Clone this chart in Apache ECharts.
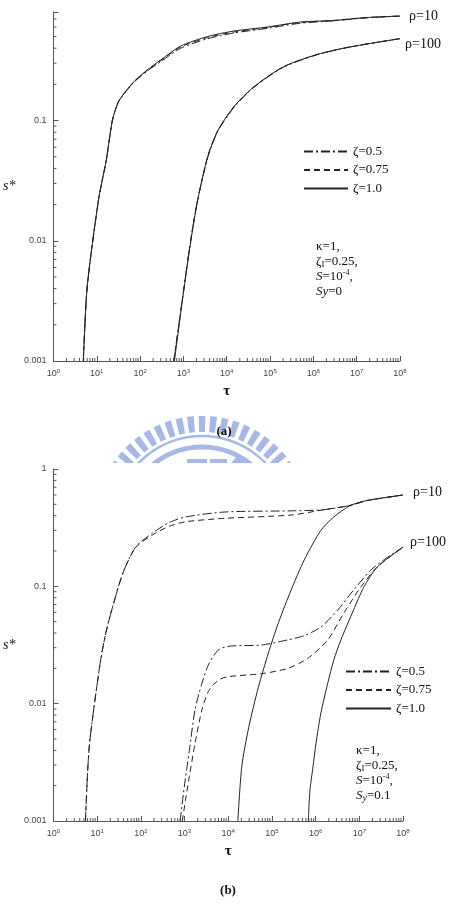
<!DOCTYPE html>
<html>
<head>
<meta charset="utf-8">
<script src="https://cdn.jsdelivr.net/npm/echarts@6/dist/echarts.min.js"></script>
<style>
  html, body { margin: 0; padding: 0; background: #fff; }
  #chart { width: 455px; height: 912px; }
</style>
</head>
<body>
<div id="chart"></div>
<script>
// legend entries, one per zeta
const zetaNames = ['ζ=0.5', 'ζ=0.75', 'ζ=1.0'];

// (a) Sy = 0, rho = 10   [tau, s*]
const aRho10Z05 = [[4.9, 0.001], [6.0, 0.0041], [11, 0.022], [16.6, 0.047], [22.9, 0.10], [30.9, 0.14], [43.6, 0.168], [74, 0.21], [151, 0.26], [302, 0.31], [870, 0.40], [3630, 0.48], [14500, 0.535], [87000, 0.585], [5.0e5, 0.645], [2.9e6, 0.675], [1.74e7, 0.715], [1e8, 0.74]];
const aRho10Z075 = [[4.9, 0.001], [6.0, 0.0041], [11, 0.022], [16.6, 0.047], [22.9, 0.10], [30.9, 0.141], [43.6, 0.17], [74, 0.212], [151, 0.264], [302, 0.316], [870, 0.41], [3630, 0.49], [14500, 0.545], [87000, 0.595], [5.0e5, 0.655], [2.9e6, 0.68], [1.74e7, 0.72], [1e8, 0.74]];
const aRho10Z1 = [[4.9, 0.001], [6.0, 0.0041], [11, 0.022], [16.6, 0.047], [22.9, 0.10], [30.9, 0.141], [43.6, 0.17], [74, 0.213], [151, 0.266], [302, 0.32], [870, 0.417], [3630, 0.50], [14500, 0.555], [87000, 0.60], [5.0e5, 0.66], [2.9e6, 0.68], [1.74e7, 0.72], [1e8, 0.74]];
// (a) Sy = 0, rho = 100
const aRho100Z05 = [[600, 0.001], [950, 0.0033], [1480, 0.0102], [2140, 0.022], [3630, 0.049], [6170, 0.081], [14500, 0.128], [41700, 0.188], [2.04e5, 0.278], [1.23e6, 0.353], [7.1e6, 0.41], [1e8, 0.48]];
const aRho100Z075 = [[600, 0.001], [950, 0.0033], [1480, 0.0102], [2140, 0.022], [3630, 0.05], [6170, 0.082], [14500, 0.13], [41700, 0.19], [2.04e5, 0.28], [1.23e6, 0.355], [7.1e6, 0.41], [1e8, 0.48]];
const aRho100Z1 = [[620, 0.001], [960, 0.0033], [1500, 0.0102], [2150, 0.022], [3630, 0.05], [6170, 0.082], [14500, 0.13], [41700, 0.19], [2.04e5, 0.28], [1.23e6, 0.355], [7.1e6, 0.41], [1e8, 0.48]];

// (b) Sy = 0.1, rho = 10
const bRho10Z05 = [[5.4, 0.001], [6.6, 0.0043], [11.7, 0.022], [15.8, 0.040], [22.9, 0.068], [38.9, 0.13], [75.9, 0.216], [186, 0.285], [447, 0.35], [1050, 0.39], [8300, 0.43], [2.75e5, 0.44], [1.55e6, 0.45], [6.3e6, 0.49], [1.55e7, 0.54], [1e8, 0.60]];
const bRho10Z075 = [[5.4, 0.001], [6.6, 0.0043], [11.7, 0.022], [15.8, 0.040], [22.9, 0.068], [38.9, 0.13], [75.9, 0.214], [186, 0.275], [447, 0.325], [1050, 0.355], [8300, 0.38], [2.75e5, 0.405], [1.55e6, 0.45], [6.3e6, 0.49], [1.55e7, 0.54], [1e8, 0.60]];
const bRho10Z1 = [[16600, 0.001], [20400, 0.0029], [29500, 0.0063], [49000, 0.0138], [83000, 0.027], [1.41e5, 0.049], [2.75e5, 0.093], [5.5e5, 0.168], [1.32e6, 0.30], [2.6e6, 0.39], [6.3e6, 0.49], [1.55e7, 0.54], [1e8, 0.60]];
// (b) Sy = 0.1, rho = 100
const bRho100Z05 = [[794, 0.001], [977, 0.0019], [1290, 0.0040], [1740, 0.0089], [2510, 0.015], [3630, 0.022], [6170, 0.029], [12000, 0.031], [57500, 0.0316], [2.34e5, 0.035], [5.5e5, 0.038], [1.32e6, 0.045], [3.24e6, 0.063], [7.4e6, 0.093], [1.82e7, 0.137], [3.55e7, 0.167], [1e8, 0.216]];
const bRho100Z075 = [[890, 0.001], [1050, 0.0015], [1290, 0.0024], [1740, 0.0046], [2510, 0.0089], [3630, 0.013], [6170, 0.016], [10200, 0.017], [57500, 0.018], [2.34e5, 0.020], [6.8e5, 0.0245], [1.9e6, 0.035], [4.4e6, 0.059], [1.07e7, 0.098], [2.57e7, 0.146], [1e8, 0.216]];
const bRho100Z1 = [[6.8e5, 0.001], [7.4e5, 0.0018], [8.7e5, 0.0029], [1.02e6, 0.0046], [1.32e6, 0.0083], [1.9e6, 0.015], [2.6e6, 0.0235], [3.8e6, 0.035], [7.4e6, 0.063], [1.26e7, 0.098], [2.57e7, 0.146], [1e8, 0.216]];

// axis ranges and minor tick multipliers
const tauRange = [1, 1e8];
const sRangeA = [0.001, 0.8];
const sRangeB = [0.001, 1];
const tauDecades = [1, 10, 100, 1e3, 1e4, 1e5, 1e6, 1e7];
const sDecades = [0.001, 0.01, 0.1];
const minorSteps = [2, 3, 4, 5, 6, 7, 8, 9];

const LINE = '#222';
const AXIS = '#555';
const SERIF = '"Liberation Serif", "DejaVu Serif", serif';
const SANS = '"Liberation Sans", Arial, sans-serif';

function isPow10(v) {
  const e = Math.log10(v);
  return Math.abs(e - Math.round(e)) < 1e-6;
}

function minorTicks(sMax) {
  const out = [];
  tauDecades.forEach(d => minorSteps.forEach(m => out.push([d * m, sRangeA[0], 0])));
  sDecades.forEach(d => minorSteps.forEach(m => {
    if (d * m < sMax) out.push([tauRange[0], d * m, 1]);
  }));
  return out;
}

function renderTick(params, api) {
  const p = api.coord([api.value(0), api.value(1)]);
  const onX = api.value(2) === 0;
  return {
    type: 'line',
    shape: onX
      ? { x1: p[0], y1: p[1], x2: p[0], y2: p[1] - 3 }
      : { x1: p[0], y1: p[1], x2: p[0] + 3, y2: p[1] },
    style: { stroke: AXIS, lineWidth: 1 }
  };
}

function xAxisOpt(gridIndex) {
  return {
    type: 'log', logBase: 10, gridIndex,
    min: tauRange[0], max: tauRange[1], splitNumber: 8,
    name: 'τ', nameLocation: 'middle', nameGap: 23,
    nameTextStyle: { fontFamily: SERIF, fontSize: 15, fontWeight: 'bold', color: '#111' },
    axisLine: { lineStyle: { color: AXIS, width: 1 } },
    axisTick: { inside: true, length: 5, lineStyle: { color: AXIS } },
    splitLine: { show: false },
    axisLabel: {
      margin: 7, color: '#444', fontFamily: SANS, fontSize: 9,
      formatter: v => '10{s|' + Math.round(Math.log10(v)) + '}',
      rich: { s: { fontSize: 6, fontFamily: SANS, color: '#444', verticalAlign: 'top', padding: [0, 0, 5, 0] } }
    }
  };
}

function yAxisOpt(gridIndex, range) {
  return {
    type: 'log', logBase: 10, gridIndex,
    min: range[0], max: range[1],
    name: 's*', nameLocation: 'middle', nameGap: 38, nameRotate: 0,
    nameTextStyle: { fontFamily: SERIF, fontSize: 14, fontStyle: 'italic', color: '#111' },
    axisLine: { lineStyle: { color: AXIS, width: 1 } },
    axisTick: { inside: true, length: 5, lineStyle: { color: AXIS } },
    splitLine: { show: false },
    axisLabel: {
      margin: 7, color: '#444', fontFamily: SANS, fontSize: 9,
      formatter: v => {
        if (!isPow10(v)) return '';
        const e = Math.round(Math.log10(v));
        return e >= 0 ? String(Math.pow(10, e)) : Math.pow(10, e).toFixed(-e);
      }
    }
  };
}

const dashTypes = [[9, 3, 2, 3], [6, 4], 'solid'];

function curve(name, data, panel, zi, rhoLabel) {
  const s = {
    name, type: 'line', data,
    xAxisIndex: panel, yAxisIndex: panel,
    symbol: 'none', smooth: 0.25,
    itemStyle: { color: LINE },
    lineStyle: { color: LINE, width: 1, type: dashTypes[zi] },
    z: 3
  };
  if (rhoLabel) {
    s.endLabel = {
      show: true, formatter: rhoLabel.text,
      distance: rhoLabel.dist, offset: rhoLabel.off,
      fontFamily: SERIF, fontSize: 14, color: '#111'
    };
  }
  return s;
}

const series = [
  curve(zetaNames[0], aRho10Z05, 0, 0),
  curve(zetaNames[1], aRho10Z075, 0, 1),
  curve(zetaNames[2], aRho10Z1, 0, 2, { text: 'ρ=10', dist: 9, off: [0, 0] }),
  curve(zetaNames[0], aRho100Z05, 0, 0),
  curve(zetaNames[1], aRho100Z075, 0, 1),
  curve(zetaNames[2], aRho100Z1, 0, 2, { text: 'ρ=100', dist: 5, off: [0, 6] }),
  curve(zetaNames[0], bRho10Z05, 1, 0),
  curve(zetaNames[1], bRho10Z075, 1, 1),
  curve(zetaNames[2], bRho10Z1, 1, 2, { text: 'ρ=10', dist: 10, off: [0, -3] }),
  curve(zetaNames[0], bRho100Z05, 1, 0),
  curve(zetaNames[1], bRho100Z075, 1, 1),
  curve(zetaNames[2], bRho100Z1, 1, 2, { text: 'ρ=100', dist: 7, off: [0, -5] }),
  { type: 'custom', xAxisIndex: 0, yAxisIndex: 0, renderItem: renderTick, data: minorTicks(sRangeA[1]), silent: true, z: 1 },
  { type: 'custom', xAxisIndex: 1, yAxisIndex: 1, renderItem: renderTick, data: minorTicks(sRangeB[1]), silent: true, z: 1 }
];

function legendOpt(left, top, w) {
  return {
    orient: 'vertical', left, top, padding: 0,
    itemWidth: w, itemHeight: 14, itemGap: 5.5,
    selectedMode: false, data: zetaNames,
    itemStyle: { opacity: 0 },
    textStyle: { fontFamily: SERIF, fontSize: 13, color: '#111' }
  };
}

// parameter blocks
const paramRich = {
  sub: { fontFamily: SERIF, fontSize: 9, lineHeight: 15, verticalAlign: 'bottom', color: '#111' },
  isub: { fontFamily: SERIF, fontSize: 10, lineHeight: 15, verticalAlign: 'bottom', fontStyle: 'italic', color: '#333' },
  sup: { fontFamily: SERIF, fontSize: 8, lineHeight: 15, verticalAlign: 'top', padding: [0, 0, 5, 0], color: '#333' },
  it: { fontFamily: SERIF, fontSize: 13, lineHeight: 15, fontStyle: 'italic', color: '#555' }
};
const paramsA = 'κ=1,\nζ{sub|I}=0.25,\n{it|S}=10{sup|-4},\n{it|Sy}=0';
const paramsB = 'κ=1,\nζ{sub|I}=0.25,\n{it|S}=10{sup|-4},\n{it|S}{isub|y}=0.1';

// faint logo behind the captions
const WM = '#a8b8e6';
const wmCenter = [202, 524];
const wmTeeth = [];
for (let a = -152; a <= -28; a += 6.2) wmTeeth.push(a);
const watermark = wmTeeth.map(a => ({
  type: 'sector', z: 0, silent: true,
  shape: { cx: wmCenter[0], cy: wmCenter[1], r0: 92, r: 108, startAngle: (a - 1.8) * Math.PI / 180, endAngle: (a + 1.8) * Math.PI / 180 },
  style: { fill: WM }
})).concat([
  { type: 'arc', z: 0, silent: true, shape: { cx: wmCenter[0], cy: wmCenter[1], r: 88, startAngle: -140 * Math.PI / 180, endAngle: -40 * Math.PI / 180 }, style: { stroke: WM, lineWidth: 2.5, fill: null } },
  { type: 'arc', z: 0, silent: true, shape: { cx: wmCenter[0], cy: wmCenter[1], r: 77, startAngle: -135 * Math.PI / 180, endAngle: -45 * Math.PI / 180 }, style: { stroke: WM, lineWidth: 5, fill: null } },
  { type: 'rect', z: 0, silent: true, shape: { x: 187, y: 459, width: 20, height: 5 }, style: { fill: WM } },
  { type: 'rect', z: 0, silent: true, shape: { x: 210, y: 459, width: 17, height: 5 }, style: { fill: WM } },
  { type: 'polygon', z: 0, silent: true, shape: { points: [[230, 464], [239, 454], [248, 464]] }, style: { fill: WM } },
  { type: 'rect', z: 1, silent: true, shape: { x: 95, y: 463, width: 225, height: 32 }, style: { fill: '#fff' } }
]);

const chart = echarts.init(document.getElementById('chart'), null, { renderer: 'canvas' });
chart.setOption({
  backgroundColor: '#fff',
  animation: false,
  grid: [
    { left: 52, top: 12, width: 348, height: 349 },
    { left: 50, top: 469, width: 353, height: 352 }
  ],
  xAxis: [xAxisOpt(0), xAxisOpt(1)],
  yAxis: [yAxisOpt(0, sRangeA), yAxisOpt(1, sRangeB)],
  legend: [legendOpt(303, 145, 44), legendOpt(345, 665, 45)],
  series,
  graphic: watermark.concat([
    { type: 'text', z: 5, left: 316, top: 239, style: { text: paramsA, rich: paramRich, fontFamily: SERIF, fontSize: 13, lineHeight: 15, fill: '#111' } },
    { type: 'text', z: 5, left: 356, top: 743, style: { text: paramsB, rich: paramRich, fontFamily: SERIF, fontSize: 13, lineHeight: 15, fill: '#111' } },
    { type: 'text', z: 5, x: 224, y: 432, style: { text: '(a)', fontFamily: SERIF, fontSize: 13, fontWeight: 'bold', fill: '#111', align: 'center', verticalAlign: 'middle' } },
    { type: 'text', z: 5, x: 228, y: 891, style: { text: '(b)', fontFamily: SERIF, fontSize: 13, fontWeight: 'bold', fill: '#111', align: 'center', verticalAlign: 'middle' } }
  ])
});
</script>
</body>
</html>
